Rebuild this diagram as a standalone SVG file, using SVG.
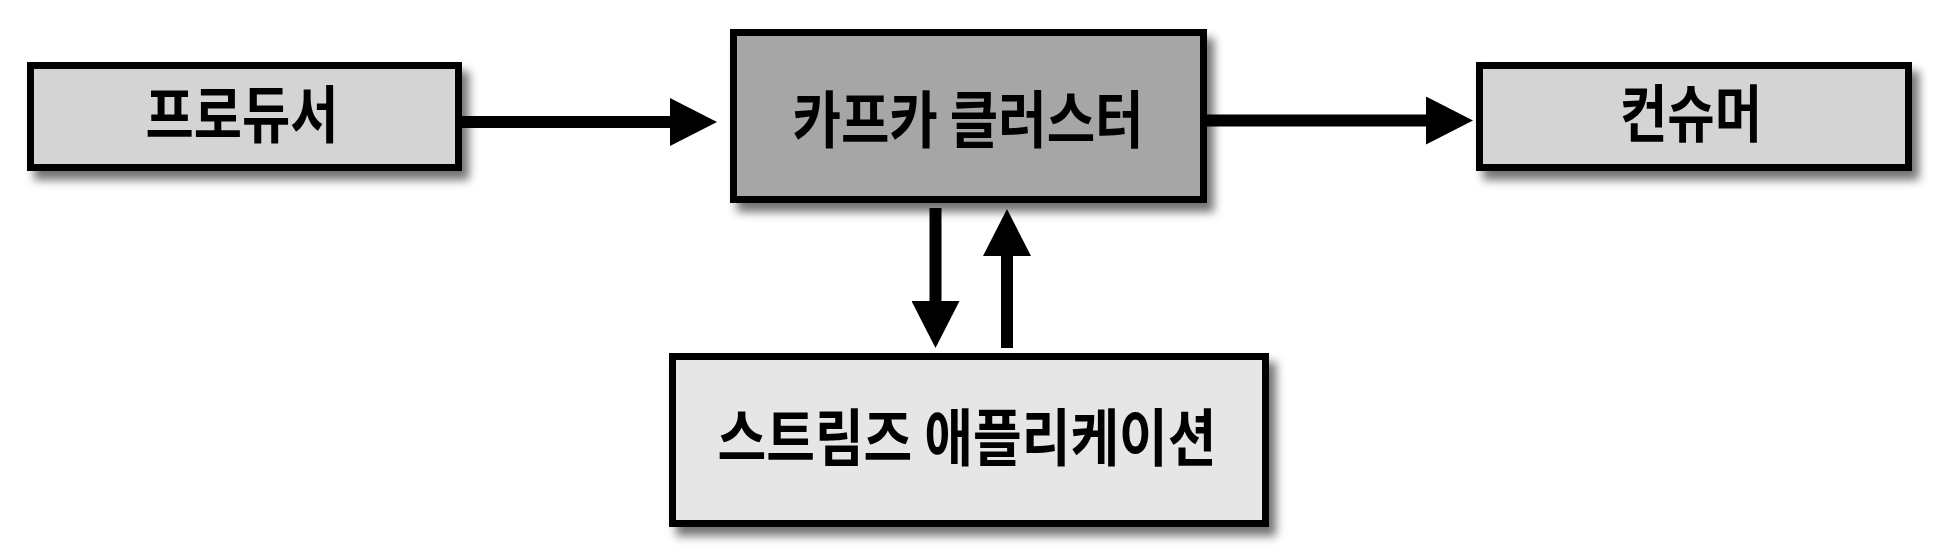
<svg xmlns="http://www.w3.org/2000/svg" width="1938" height="554" viewBox="0 0 1938 554">
<defs>
<filter id="sh" x="-10%" y="-20%" width="130%" height="160%">
<feDropShadow dx="7" dy="9" stdDeviation="5" flood-color="#000" flood-opacity="0.55"/>
</filter>
<marker id="ah" viewBox="0 0 47 48" markerWidth="47" markerHeight="48" markerUnits="userSpaceOnUse" refX="0" refY="24" orient="auto">
<path d="M0,0 L47,24 L0,48 Z" fill="#000"/>
</marker>
</defs>
<style>
.box{stroke:#000;stroke-width:7;filter:url(#sh)}
.lbl{font-family:"Noto Sans CJK KR","Noto Sans",sans-serif;font-weight:700;font-size:62px;fill:#000;text-anchor:middle}
.con{stroke:#000;stroke-width:12;fill:none;marker-end:url(#ah)}
</style>
<rect width="1938" height="554" fill="#fff"/>
<g id="connectors">
<path class="con" d="M462,122 L670,122"/>
<path class="con" d="M1207,120.5 L1426,120.5"/>
<path class="con" d="M935.5,208 L935.5,301"/>
<path class="con" d="M1007,348 L1007,256"/>
</g>
<g id="producer">
<rect class="box" x="30.5" y="65.5" width="428" height="102" fill="#d4d4d4"/>
<text class="lbl" x="242" y="138" textLength="193" lengthAdjust="spacingAndGlyphs">프로듀서</text>
</g>
<g id="kafka">
<rect class="box" x="733.5" y="32.5" width="470" height="167" fill="#a6a6a6"/>
<text class="lbl" x="968" y="143" textLength="351" lengthAdjust="spacingAndGlyphs">카프카 클러스터</text>
</g>
<g id="consumer">
<rect class="box" x="1479.5" y="65.5" width="429" height="102" fill="#d4d4d4"/>
<text class="lbl" x="1691" y="137" textLength="142" lengthAdjust="spacingAndGlyphs">컨슈머</text>
</g>
<g id="streams">
<rect class="box" x="672.5" y="356.5" width="593" height="167" fill="#e6e6e6"/>
<text class="lbl" x="967" y="461" textLength="499" lengthAdjust="spacingAndGlyphs">스트림즈 애플리케이션</text>
</g>
</svg>
